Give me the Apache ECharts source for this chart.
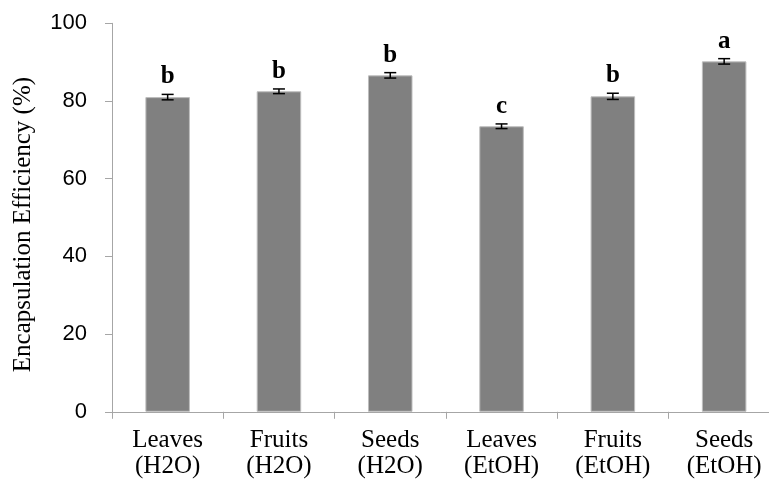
<!DOCTYPE html>
<html>
<head>
<meta charset="utf-8">
<script src="https://cdn.jsdelivr.net/npm/echarts@6/dist/echarts.min.js"></script>
<style>html,body{margin:0;padding:0;background:#fff;}#c{width:769px;height:485px;}</style>
</head>
<body>
<div id="c"></div>
<script>
var categories = ['Leaves\n(H2O)', 'Fruits\n(H2O)', 'Seeds\n(H2O)', 'Leaves\n(EtOH)', 'Fruits\n(EtOH)', 'Seeds\n(EtOH)'];
var values = [81.0, 82.5, 86.6, 73.5, 81.2, 90.2];
var errors = [0.7, 0.6, 0.7, 0.6, 0.8, 0.7];
var letters = ['b', 'b', 'b', 'c', 'b', 'a'];
var yTicks = [0, 20, 40, 60, 80, 100];

var chart = echarts.init(document.getElementById('c'));
var errData = values.map(function (v, i) { return [i, v, errors[i], letters[i]]; });

chart.setOption({
  animation: false,
  backgroundColor: '#fff',
  grid: { left: 112, top: 23.3, bottom: 73.2, right: -10.8, containLabel: false, outerBoundsMode: 'none' },
  xAxis: {
    type: 'category',
    data: categories,
    boundaryGap: true,
    axisLine: { lineStyle: { color: '#a6a6a6', width: 1 } },
    axisTick: { show: true, length: 7, inside: false, alignWithLabel: false, lineStyle: { color: '#a6a6a6' } },
    axisLabel: { color: '#000', fontFamily: 'Liberation Serif', fontSize: 25, lineHeight: 26, margin: 16, interval: 0 }
  },
  yAxis: {
    type: 'value',
    min: 0, max: 100, interval: 20,
    name: 'Encapsulation Efficiency (%)',
    nameLocation: 'middle',
    nameGap: 76,
    nameTextStyle: { color: '#000', fontFamily: 'Liberation Serif', fontSize: 25, padding: [0, 14, 0, 0] },
    axisLine: { show: true, lineStyle: { color: '#a6a6a6', width: 1 } },
    axisTick: { show: true, length: 7, lineStyle: { color: '#a6a6a6' } },
    splitLine: { show: false },
    axisLabel: {
      color: '#000', fontFamily: 'Liberation Sans', fontSize: 22, margin: 25,
      formatter: function (v) { return yTicks.indexOf(v) >= 0 ? String(v) : ''; }
    }
  },
  series: [
    {
      type: 'bar',
      data: values,
      barWidth: '40%',
      itemStyle: { color: '#808080', borderColor: '#bdbdbd', borderWidth: 1 }
    },
    {
      type: 'custom',
      data: errData,
      z: 10,
      renderItem: function (params, api) {
        var x = api.value(0), v = api.value(1), e = api.value(2);
        var top = api.coord([x, v + e]);
        var bot = api.coord([x, v - e]);
        var hw = 6;
        var st = { stroke: '#000', lineWidth: 1.5 };
        return {
          type: 'group',
          children: [
            { type: 'line', shape: { x1: top[0], y1: top[1], x2: bot[0], y2: bot[1] }, style: st },
            { type: 'line', shape: { x1: top[0] - hw, y1: top[1], x2: top[0] + hw, y2: top[1] }, style: st },
            { type: 'line', shape: { x1: bot[0] - hw, y1: bot[1], x2: bot[0] + hw, y2: bot[1] }, style: st },
            { type: 'text', x: top[0], y: top[1] - 5,
              style: { text: letters[params.dataIndex], fill: '#000', font: 'bold 25px "Liberation Serif"', align: 'center', verticalAlign: 'bottom' } }
          ]
        };
      }
    }
  ]
});
</script>
</body>
</html>
